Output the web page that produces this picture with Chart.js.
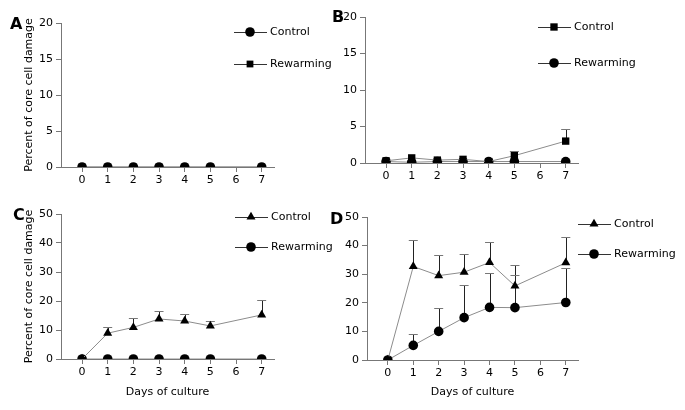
<!DOCTYPE html>
<html>
<head>
<meta charset="utf-8">
<script src="https://cdn.jsdelivr.net/npm/chart.js"></script>
<style>
  body { margin: 0; background: #fff; }
  #wrap { position: relative; width: 685px; height: 410px; font-family: 'DejaVu Sans', sans-serif; }
  .panel { position: absolute; }
  .letter { position: absolute; font-weight: bold; font-size: 16px; line-height: 16px; }
</style>
</head>
<body>
<div id="wrap">
  <div class="panel" style="left:0;top:0"><canvas id="chartA" width="342" height="200"></canvas></div>
  <div class="panel" style="left:342px;top:0"><canvas id="chartB" width="343" height="200"></canvas></div>
  <div class="panel" style="left:0;top:200px"><canvas id="chartC" width="342" height="210"></canvas></div>
  <div class="panel" style="left:342px;top:200px"><canvas id="chartD" width="343" height="210"></canvas></div>
  <div class="letter" style="left:10px;top:16px">A</div>
  <div class="letter" style="left:332px;top:9px">B</div>
  <div class="letter" style="left:13px;top:207px">C</div>
  <div class="letter" style="left:330px;top:211px">D</div>
</div>
<script>
// days sampled (no reading on day 6)
const days = [0, 1, 2, 3, 4, 5, 7];

// A
const aControl   = [0, 0, 0, 0, 0, 0, 0];
const aRewarming = [0, 0, 0, 0, 0, 0, 0];
// B
const bControl     = [0.3, 0.7, 0.4, 0.5, 0.2, 1.0, 3.0];
const bControlSD   = [0, 0, 0, 0, 0, 0.6, 1.6];
const bRewarming   = [0.2, 0.1, 0.2, 0.2, 0.2, 0.2, 0.2];
// C
const cControl     = [0, 8.9, 10.9, 13.8, 13.1, 11.4, 15.2];
const cControlSD   = [0, 2.0, 3.2, 2.9, 2.3, 1.8, 5.0];
const cRewarming   = [0, 0, 0, 0, 0, 0, 0];
// D
const dControl     = [0, 32.7, 29.5, 30.7, 34.1, 25.9, 34.0];
const dControlSD   = [0, 9.4, 7.3, 6.5, 7.3, 7.2, 9.0];
const dRewarming   = [0, 5.1, 10.0, 14.8, 18.4, 18.3, 20.1];
const dRewarmingSD = [0, 3.9, 8.1, 11.5, 11.9, 11.3, 11.9];

const yTicksA = [0, 5, 10, 15, 20];
const yTicksC = [0, 10, 20, 30, 40, 50];
const xTicks = [0, 1, 2, 3, 4, 5, 6, 7];

Chart.defaults.font.family = "'DejaVu Sans', sans-serif";
Chart.defaults.font.size = 11;
Chart.defaults.color = '#000';

const toPts = (vals) => days.map((d, i) => ({ x: d, y: vals[i] }));

function drawMarker(ctx, style, x, y, r) {
  ctx.beginPath();
  if (style === 'circle') {
    ctx.arc(x, y, r, 0, Math.PI * 2);
  } else if (style === 'rect') {
    const s = r * Math.SQRT1_2;
    ctx.rect(x - s, y - s, 2 * s, 2 * s);
  } else {
    ctx.moveTo(x, y - r);
    ctx.lineTo(x + r * 0.866, y + r * 0.5);
    ctx.lineTo(x - r * 0.866, y + r * 0.5);
    ctx.closePath();
  }
  ctx.fill();
}

// upward-only error bars
const errorBars = {
  id: 'errorBars',
  beforeDatasetsDraw(chart) {
    const { ctx, scales: { x, y } } = chart;
    chart.data.datasets.forEach(ds => {
      if (!ds.sd) return;
      ds.data.forEach((p, i) => {
        const sd = ds.sd[i];
        if (!sd) return;
        const px = x.getPixelForValue(p.x);
        const py = y.getPixelForValue(p.y);
        const top = y.getPixelForValue(p.y + sd);
        ctx.save();
        ctx.strokeStyle = '#222';
        ctx.lineWidth = 1;
        ctx.beginPath();
        ctx.moveTo(Math.round(px) + 0.5, py);
        ctx.lineTo(Math.round(px) + 0.5, Math.round(top) + 0.5);
        ctx.stroke();
        ctx.strokeStyle = '#777';
        ctx.beginPath();
        ctx.moveTo(px - 4.5, Math.round(top) + 0.5);
        ctx.lineTo(px + 4.5, Math.round(top) + 0.5);
        ctx.stroke();
        ctx.restore();
      });
    });
  }
};

// legend: short line through a marker, then the label
const seriesKey = {
  id: 'seriesKey',
  afterDraw(chart, args, opts) {
    const ctx = chart.ctx;
    chart.data.datasets.forEach((ds, i) => {
      const y = opts.y[i];
      ctx.save();
      ctx.strokeStyle = '#333';
      ctx.lineWidth = 1;
      ctx.beginPath();
      ctx.moveTo(opts.x, Math.round(y) + 0.5);
      ctx.lineTo(opts.x + 33, Math.round(y) + 0.5);
      ctx.stroke();
      ctx.fillStyle = '#000';
      drawMarker(ctx, ds.pointStyle, opts.x + 16, y, ds.pointRadius);
      ctx.font = "11px 'DejaVu Sans'";
      ctx.textBaseline = 'middle';
      ctx.fillText(ds.label, opts.x + 36, y);
      ctx.restore();
    });
  }
};

function makeChart(id, cfg) {
  const W = cfg.W, H = cfg.H, a = cfg.area;
  return new Chart(document.getElementById(id), {
    type: 'line',
    data: { datasets: cfg.datasets },
    plugins: [errorBars, seriesKey],
    options: {
      responsive: false,
      animation: false,
      devicePixelRatio: 1,
      layout: { padding: { left: 0, top: a.top, right: W - a.right, bottom: 0 } },
      plugins: {
        legend: { display: false },
        tooltip: { enabled: false },
        seriesKey: cfg.key
      },
      scales: {
        x: {
          type: 'linear',
          min: -0.82, max: 7.48,
          afterFit: s => { s.height = H - a.bottom; },
          afterBuildTicks: s => { s.ticks = xTicks.map(v => ({ value: v })); },
          ticks: { padding: 2, maxRotation: 0, callback: v => v },
          grid: { drawOnChartArea: false, drawTicks: true, tickLength: 5, color: '#777' },
          border: { color: '#777' },
          title: {
            display: !!cfg.xTitle, text: cfg.xTitle || '',
            font: { size: 11 }, padding: { top: 0, bottom: 11 }
          }
        },
        y: {
          min: 0, max: cfg.yTicks[cfg.yTicks.length - 1],
          afterFit: s => { s.width = a.left; },
          afterBuildTicks: s => { s.ticks = cfg.yTicks.map(v => ({ value: v })); },
          ticks: { padding: 3 },
          grid: { drawOnChartArea: false, drawTicks: true, tickLength: 5, color: '#777' },
          border: { color: '#777' },
          title: {
            display: !!cfg.yTitle, text: cfg.yTitle || '',
            font: { size: 11 }, padding: { top: 23, bottom: 0 }
          }
        }
      }
    }
  });
}

function series(label, vals, style, r, sd) {
  return {
    label: label,
    data: toPts(vals),
    sd: sd,
    borderColor: '#8c8c8c',
    borderWidth: 1,
    pointStyle: style,
    pointRadius: r,
    pointBackgroundColor: '#000',
    pointBorderColor: '#000',
    pointBorderWidth: 0,
    tension: 0
  };
}

const yLabel = 'Percent of core cell damage';
const xLabel = 'Days of culture';

makeChart('chartA', {
  W: 342, H: 200,
  area: { left: 61, right: 274, top: 23, bottom: 167 },
  yTicks: yTicksA, yTitle: yLabel,
  key: { x: 234, y: [32, 64] },
  datasets: [
    series('Control', aControl, 'circle', 4.8),
    series('Rewarming', aRewarming, 'rect', 4.8)
  ]
});

makeChart('chartB', {
  W: 343, H: 200,
  area: { left: 23, right: 236, top: 17, bottom: 163 },
  yTicks: yTicksA,
  key: { x: 196, y: [27, 63] },
  datasets: [
    series('Control', bControl, 'rect', 5.2, bControlSD),
    series('Rewarming', bRewarming, 'circle', 4.8)
  ]
});

makeChart('chartC', {
  W: 342, H: 210,
  area: { left: 61, right: 274, top: 14, bottom: 159 },
  yTicks: yTicksC, yTitle: yLabel, xTitle: xLabel,
  key: { x: 235, y: [17, 47] },
  datasets: [
    series('Control', cControl, 'triangle', 5.2, cControlSD),
    series('Rewarming', cRewarming, 'circle', 4.8)
  ]
});

makeChart('chartD', {
  W: 343, H: 210,
  area: { left: 25, right: 236, top: 17, bottom: 160 },
  yTicks: yTicksC, xTitle: xLabel,
  key: { x: 236, y: [24, 54] },
  datasets: [
    series('Control', dControl, 'triangle', 5.2, dControlSD),
    series('Rewarming', dRewarming, 'circle', 4.8, dRewarmingSD)
  ]
});
</script>
</body>
</html>
